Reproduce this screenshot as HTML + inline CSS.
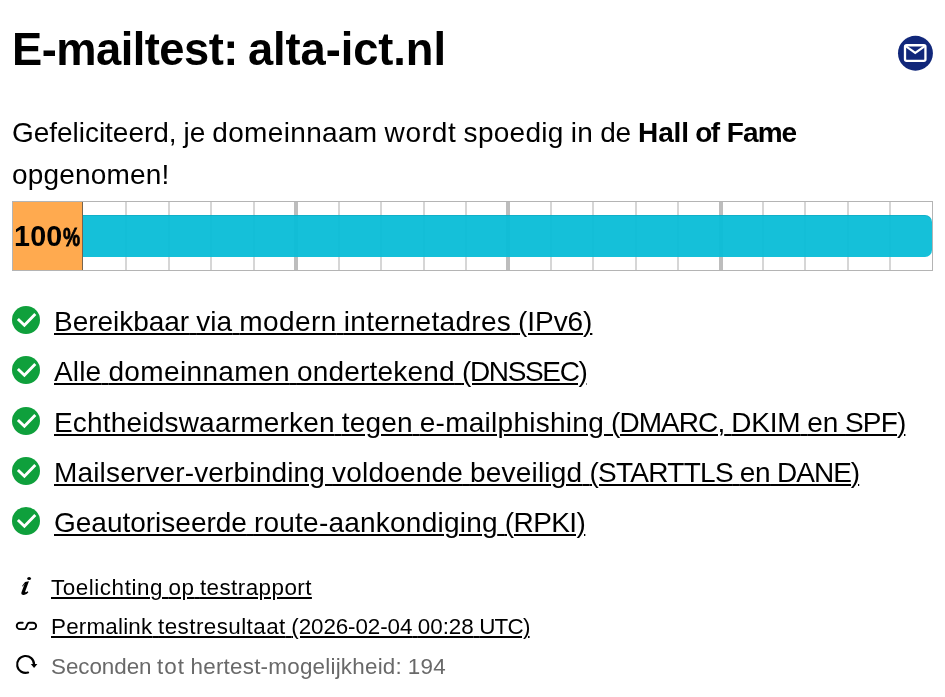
<!DOCTYPE html>
<html lang="nl">
<head>
<meta charset="utf-8">
<title>E-mailtest: alta-ict.nl</title>
<style>
html,body{margin:0;padding:0;background:#fff;}
body{width:945px;height:697px;position:relative;overflow:hidden;font-family:"Liberation Sans",sans-serif;color:#000;}
.abs{position:absolute;white-space:nowrap;}
h1{margin:0;font-weight:bold;font-size:45.3px;line-height:52px;left:12px;top:23.6px;word-spacing:-2.4px;}
p.intro{margin:0;font-size:28px;line-height:42px;left:12px;}
.li{font-size:28px;line-height:32px;left:54px;}
.li a,.lk a{color:#000;text-decoration:underline;text-decoration-thickness:2.2px;text-underline-offset:2px;}
.lk{font-size:22.4px;line-height:26px;left:51px;}
.lk a{text-decoration-thickness:2px;text-underline-offset:2px;}
.grey{color:#696969;}
#bar{left:12px;top:201px;width:921px;height:70px;box-sizing:border-box;border:1px solid #b4b4b4;background:#fff;overflow:hidden;}
#bar i{position:absolute;top:0;bottom:0;width:2px;background:#d6d6d6;}
#bar i.t{width:4px;background:#bdbdbd;}
#fill{position:absolute;left:70px;top:13px;height:42px;right:0;background:rgba(8,189,215,0.95);border-radius:0 7px 7px 0;box-shadow:inset 0 1px 0 rgba(0,40,60,0.10);}
#pct{position:absolute;left:0;top:0;bottom:0;width:70px;background:#ffaa4f;border-right:1px solid #76644e;box-sizing:border-box;font-weight:bold;font-size:28.7px;line-height:68px;text-align:left;padding-left:1px;letter-spacing:0.2px;white-space:nowrap;}
#pct span{display:inline-block;font-size:26px;letter-spacing:0;transform:scaleX(0.74);transform-origin:0 50%;margin-left:0.8px;-webkit-text-stroke:0.8px #000;}
</style>
</head>
<body>
<h1 class="abs" id="h1"><span style="letter-spacing:-0.53px">E-mailtest:</span> <span style="letter-spacing:-0.08px">alta-ict.nl</span></h1>
<p class="abs intro" id="p1" style="top:112.3px"><span style="letter-spacing:-0.031px">Gefeliciteerd,</span><span style="letter-spacing:-0.788px"> </span><span style="letter-spacing:-0.043px">je</span><span style="letter-spacing:-0.788px"> </span><span style="letter-spacing:0.341px">domeinnaam</span><span style="letter-spacing:-0.788px"> </span><span style="letter-spacing:0.718px">wordt</span><span style="letter-spacing:-0.788px"> </span><span style="letter-spacing:0.290px">spoedig</span><span style="letter-spacing:-0.788px"> </span><span style="letter-spacing:0.322px">in</span><span style="letter-spacing:-0.788px"> </span><span style="letter-spacing:-0.130px">de</span><span style="letter-spacing:-0.788px"> </span><b id="b1"><span style="letter-spacing:-0.15px">Hall</span><span style="letter-spacing:-1.4px"> </span><span style="letter-spacing:-1.5px">of</span><span style="letter-spacing:0.3px"> </span><span style="letter-spacing:-0.9px">Fame</span></b></p>
<p class="abs intro" id="p2" style="top:154.3px"><span style="letter-spacing:0.191px">opgenomen!</span></p>

<svg class="abs" style="left:897px;top:35px" width="37" height="37" viewBox="0 0 37 37">
  <circle cx="18.45" cy="18.25" r="17.45" fill="#11277a"/>
  <rect x="8" y="10.25" width="20.45" height="15.6" rx="1.6" fill="none" stroke="#fff" stroke-width="2.3"/>
  <path d="M8.7 11.2 L18.25 17.9 L27.8 11.2" fill="none" stroke="#fff" stroke-width="2.2" stroke-linejoin="miter"/>
</svg>

<div class="abs" id="bar">
<i style="left:112.44px"></i><i style="left:154.88px"></i><i style="left:197.32px"></i><i style="left:239.76px"></i><i class="t" style="left:281.20px"></i>
<i style="left:324.64px"></i><i style="left:367.08px"></i><i style="left:409.52px"></i><i style="left:451.96px"></i><i class="t" style="left:493.40px"></i>
<i style="left:536.84px"></i><i style="left:579.28px"></i><i style="left:621.72px"></i><i style="left:664.16px"></i><i class="t" style="left:705.60px"></i>
<i style="left:749.04px"></i><i style="left:791.48px"></i><i style="left:833.92px"></i><i style="left:876.36px"></i>
<div id="fill"></div>
<div id="pct">100<span>%</span></div>
</div>

<svg class="abs" style="left:12px;top:306.00px" width="28" height="28" viewBox="0 0 28 28"><circle cx="14" cy="14" r="14" fill="#0fa03c"/><path d="M5.9 12.9 L12.4 19.3 L23.3 7.9" fill="none" stroke="#fff" stroke-width="2.85"/></svg>
<svg class="abs" style="left:12px;top:356.25px" width="28" height="28" viewBox="0 0 28 28"><circle cx="14" cy="14" r="14" fill="#0fa03c"/><path d="M5.9 12.9 L12.4 19.3 L23.3 7.9" fill="none" stroke="#fff" stroke-width="2.85"/></svg>
<svg class="abs" style="left:12px;top:406.50px" width="28" height="28" viewBox="0 0 28 28"><circle cx="14" cy="14" r="14" fill="#0fa03c"/><path d="M5.9 12.9 L12.4 19.3 L23.3 7.9" fill="none" stroke="#fff" stroke-width="2.85"/></svg>
<svg class="abs" style="left:12px;top:456.75px" width="28" height="28" viewBox="0 0 28 28"><circle cx="14" cy="14" r="14" fill="#0fa03c"/><path d="M5.9 12.9 L12.4 19.3 L23.3 7.9" fill="none" stroke="#fff" stroke-width="2.85"/></svg>
<svg class="abs" style="left:12px;top:507.00px" width="28" height="28" viewBox="0 0 28 28"><circle cx="14" cy="14" r="14" fill="#0fa03c"/><path d="M5.9 12.9 L12.4 19.3 L23.3 7.9" fill="none" stroke="#fff" stroke-width="2.85"/></svg>
<div class="abs li" id="l1" style="top:306.10px"><a><span style="letter-spacing:-0.028px">Bereikbaar</span><span style="letter-spacing:-0.750px"> </span><span style="letter-spacing:0.101px">via</span><span style="letter-spacing:-0.750px"> </span><span style="letter-spacing:0.417px">modern</span><span style="letter-spacing:-0.750px"> </span><span style="letter-spacing:0.295px">internetadres</span><span style="letter-spacing:-0.750px"> </span><span style="letter-spacing:-0.075px">(IPv6)</span></a></div>
<div class="abs li" id="l2" style="top:356.35px"><a><span style="letter-spacing:0.165px">Alle</span><span style="letter-spacing:-0.750px"> </span><span style="letter-spacing:0.364px">domeinnamen</span><span style="letter-spacing:-0.750px"> </span><span style="letter-spacing:0.211px">ondertekend</span><span style="letter-spacing:-0.750px"> </span><span style="letter-spacing:-1.346px">(DNSSEC)</span></a></div>
<div class="abs li" id="l3" style="top:406.60px"><a><span style="letter-spacing:0.193px">Echtheidswaarmerken</span><span style="letter-spacing:-0.750px"> </span><span style="letter-spacing:0.180px">tegen</span><span style="letter-spacing:-0.750px"> </span><span style="letter-spacing:0.266px">e-mailphishing</span><span style="letter-spacing:-0.750px"> </span><span style="letter-spacing:-0.935px">(DMARC,</span><span style="letter-spacing:-0.749px"> </span><span style="letter-spacing:-0.260px">DKIM</span><span style="letter-spacing:-0.749px"> </span><span style="letter-spacing:-0.217px">en</span><span style="letter-spacing:-0.749px"> </span><span style="letter-spacing:-0.858px">SPF)</span></a></div>
<div class="abs li" id="l4" style="top:456.85px"><a><span style="letter-spacing:0.160px">Mailserver-verbinding</span><span style="letter-spacing:-0.750px"> </span><span style="letter-spacing:0.180px">voldoende</span><span style="letter-spacing:-0.750px"> </span><span style="letter-spacing:0.210px">beveiligd</span><span style="letter-spacing:-0.750px"> </span><span style="letter-spacing:-0.713px">(STARTTLS</span><span style="letter-spacing:-0.851px"> </span><span style="letter-spacing:-0.440px">en</span><span style="letter-spacing:-0.851px"> </span><span style="letter-spacing:-0.981px">DANE)</span></a></div>
<div class="abs li" id="l5" style="top:507.10px"><a><span style="letter-spacing:-0.008px">Geautoriseerde</span><span style="letter-spacing:-0.750px"> </span><span style="letter-spacing:0.226px">route-aankondiging</span><span style="letter-spacing:-0.750px"> </span><span style="letter-spacing:-0.579px">(RPKI)</span></a></div>

<svg class="abs" style="left:10px;top:570px" width="40" height="40" viewBox="0 0 697 697"><ellipse cx="333" cy="148" rx="33" ry="27" fill="#000"/><path d="M330 195 L266 372 Q260 392 278 388 L310 372 L320 386 Q282 438 238 436 Q186 428 200 386 L258 232 L224 288 L210 278 L262 208 Z" fill="#000"/></svg>
<svg class="abs" style="left:6px;top:606px" width="40" height="40" viewBox="0 0 697 697"><path d="M292 292 H242.5 A55.5 55.5 0 0 0 242.5 403 H316 C368 403 352 292 404 292 H469.5 A55.5 55.5 0 0 1 469.5 403 H420" fill="none" stroke="#000" stroke-width="33" stroke-linecap="round"/></svg>
<svg class="abs" style="left:6px;top:645px" width="40" height="40" viewBox="0 0 697 697"><path d="M385 480 A147.5 147.5 0 1 1 489 338" fill="none" stroke="#000" stroke-width="38" stroke-linecap="round"/><path d="M432 333 H547 L489 400 Z" fill="#000"/></svg>
<div class="abs lk" id="k1" style="top:575.0px"><a><span style="letter-spacing:0.563px">Toelichting</span><span style="letter-spacing:-0.620px"> </span><span style="letter-spacing:0.376px">op</span><span style="letter-spacing:-0.620px"> </span><span style="letter-spacing:0.451px">testrapport</span></a></div>
<div class="abs lk" id="k2" style="top:614.4px"><a><span style="letter-spacing:0.208px">Permalink</span><span style="letter-spacing:-0.609px"> </span><span style="letter-spacing:0.437px">testresultaat</span><span style="letter-spacing:-0.609px"> </span><span style="letter-spacing:-0.098px">(2026-02-04</span><span style="letter-spacing:-0.676px"> </span><span style="letter-spacing:-0.036px">00:28</span><span style="letter-spacing:-0.676px"> </span><span style="letter-spacing:-0.777px">UTC)</span></a></div>
<div class="abs lk grey" id="k3" style="top:654.0px"><span style="letter-spacing:-0.050px">Seconden</span><span style="letter-spacing:-0.600px"> </span><span style="letter-spacing:0.980px">tot</span><span style="letter-spacing:-0.600px"> </span><span style="letter-spacing:0.232px">hertest-mogelijkheid:</span><span style="letter-spacing:-0.600px"> </span><span style="letter-spacing:0.326px">194</span></div>
</body>
</html>
